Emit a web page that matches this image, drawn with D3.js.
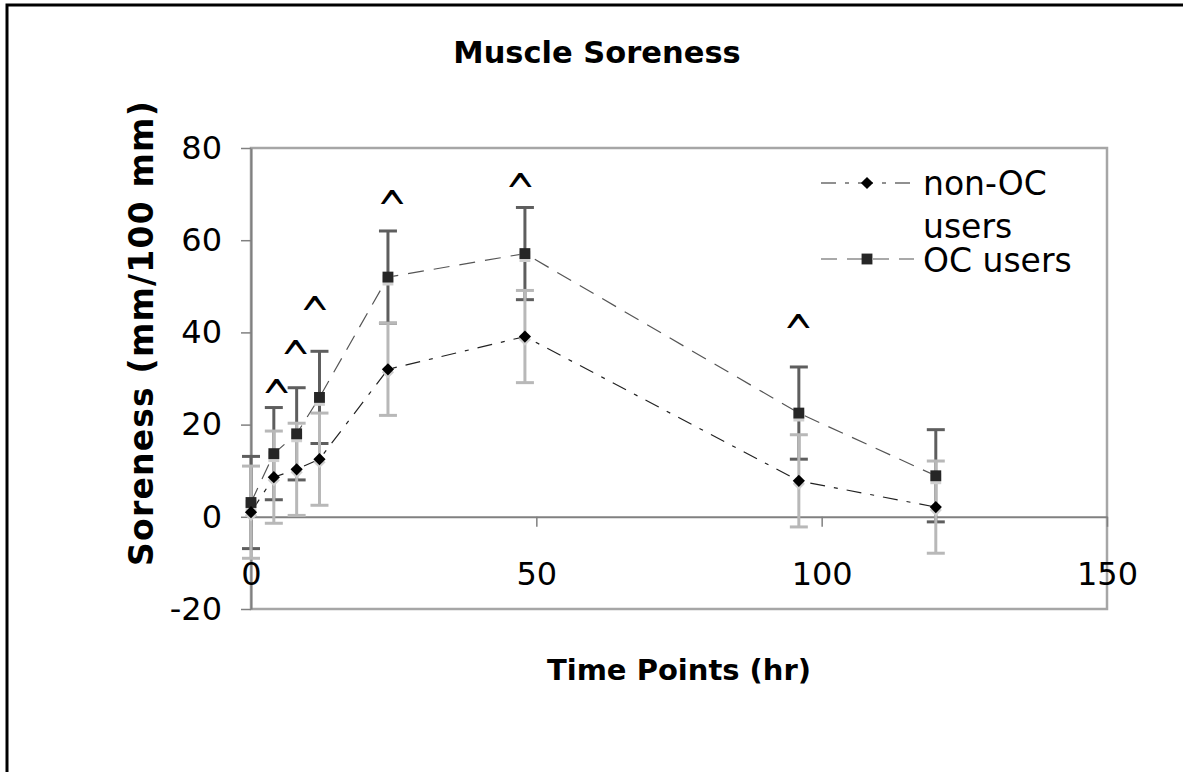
<!DOCTYPE html>
<html>
<head>
<meta charset="utf-8">
<script src="https://cdn.jsdelivr.net/npm/d3@7"></script>
<style>
  html, body { margin: 0; padding: 0; background: #fff; }
  svg { display: block; }
</style>
</head>
<body>
<svg id="chart" width="1183" height="772"></svg>
<script>
// ---- data ----
const timePoints = [0, 4, 8, 12, 24, 48, 96, 120];
const nonOC = [1.0, 8.6, 10.3, 12.5, 32.0, 39.1, 7.8, 2.1];
const nonOCErr = [10, 10, 10, 10, 10, 10, 10, 10];
const oc = [3.1, 13.7, 18.0, 25.9, 52.0, 57.1, 22.5, 8.9];
const ocErr = [10, 10, 10, 10, 10, 10, 10, 10];
const caretX = [4.5, 7.8, 11.2, 24.7, 47.2, 95.9];
const caretY = [28.4, 36.9, 46.4, 69.4, 73.1, 42.5];
const xTicks = [0, 50, 100, 150];
const yTicks = [-20, 0, 20, 40, 60, 80];
const seriesNames = ["non-OC users", "OC users"];

const svg = d3.select("#chart");
const FONT = "'DejaVu Sans', Verdana, sans-serif";

// outer frame
svg.append("rect").attr("x", 7).attr("y", 5).attr("width", 1300).attr("height", 900)
  .attr("fill", "none").attr("stroke", "#000").attr("stroke-width", 3);

const x = d3.scaleLinear().domain([0, 150]).range([251, 1107]);
const y = d3.scaleLinear().domain([-20, 80]).range([609, 148]);

// plot border
svg.append("rect").attr("x", x(0)).attr("y", y(80))
  .attr("width", x(150) - x(0)).attr("height", y(-20) - y(80))
  .attr("fill", "none").attr("stroke", "#a6a6a6").attr("stroke-width", 2.5);

const fmt = d => String(d);

// y axis
const yAxis = svg.append("g").attr("transform", `translate(${x(0)},0)`)
  .call(d3.axisLeft(y).tickValues(yTicks).tickSize(10).tickSizeOuter(0).tickPadding(19)
    .tickFormat(fmt));
yAxis.select(".domain").attr("stroke", "#808080").attr("stroke-width", 2);
yAxis.selectAll(".tick line").attr("stroke", "#808080").attr("stroke-width", 1.5);
yAxis.selectAll(".tick text").attr("font-family", FONT).attr("font-size", 32).attr("fill", "#000");

// x axis at y=0
const xAxis = svg.append("g").attr("transform", `translate(0,${y(0)})`)
  .call(d3.axisBottom(x).tickValues(xTicks).tickSize(10).tickSizeOuter(0).tickFormat(fmt));
xAxis.select(".domain").attr("stroke", "#808080").attr("stroke-width", 2);
xAxis.selectAll(".tick line").attr("stroke", "#808080").attr("stroke-width", 1.5);
xAxis.selectAll(".tick text").attr("font-family", FONT).attr("font-size", 32).attr("fill", "#000")
  .attr("y", 57).attr("dy", "0.35em");

// error bars
function errorBars(vals, errs, color, cls) {
  const g = svg.append("g").attr("class", cls);
  timePoints.forEach((t, i) => {
    const cx = x(t), top = y(vals[i] + errs[i]), bot = y(vals[i] - errs[i]);
    g.append("line").attr("x1", cx).attr("x2", cx).attr("y1", top).attr("y2", bot)
      .attr("stroke", color).attr("stroke-width", 3);
    [top, bot].forEach(yy => g.append("line").attr("x1", cx - 9).attr("x2", cx + 9)
      .attr("y1", yy).attr("y2", yy).attr("stroke", color).attr("stroke-width", 3));
  });
}
errorBars(oc, ocErr, "#5e5e5e", "err-oc");
errorBars(nonOC, nonOCErr, "#b8b8b8", "err-non");

// lines
const line = d3.line().x((d, i) => x(timePoints[i])).y(d => y(d));
svg.append("path").datum(nonOC).attr("d", line).attr("fill", "none")
  .attr("stroke", "#222").attr("stroke-width", 1.2).attr("stroke-dasharray", "15,9,4,9");
svg.append("path").datum(oc).attr("d", line).attr("fill", "none")
  .attr("stroke", "#555").attr("stroke-width", 1.2).attr("stroke-dasharray", "16,10");

// markers with soft shadow
const diamond = d3.symbol().type(d3.symbolDiamond2).size(95);
const square = d3.symbol().type(d3.symbolSquare2).size(150);
function markers(vals, sym, fill) {
  timePoints.forEach((t, i) => {
    svg.append("path").attr("d", sym()).attr("transform", `translate(${x(t)},${y(vals[i]) + 3})`)
      .attr("fill", "#cfcfcf");
  });
  timePoints.forEach((t, i) => {
    svg.append("path").attr("d", sym()).attr("transform", `translate(${x(t)},${y(vals[i])})`)
      .attr("fill", fill);
  });
}
markers(oc, square, "#262626");
markers(nonOC, diamond, "#000");

// significance carets
const CF = 36;
caretX.forEach((cx, i) => {
  svg.append("g").attr("transform", `translate(${x(cx)},${y(caretY[i])}) scale(1,1.45)`)
    .append("text").attr("x", 0).attr("y", 0.594 * CF).attr("text-anchor", "middle")
    .attr("font-family", FONT).attr("font-size", CF).attr("fill", "#000").text("^");
});

// legend
const leg = svg.append("g");
const legRows = [
  { y: 183, dash: "15,9,4,9", color: "#222", sym: diamond, fill: "#000" },
  { y: 259, dash: "16,10", color: "#555", sym: square, fill: "#262626" }
];
legRows.forEach(r => {
  leg.append("line").attr("x1", 821).attr("x2", 914).attr("y1", r.y).attr("y2", r.y)
    .attr("stroke", r.color).attr("stroke-width", 1.2).attr("stroke-dasharray", r.dash);
  leg.append("path").attr("d", r.sym()).attr("transform", `translate(867,${r.y})`).attr("fill", r.fill);
});
leg.append("text").attr("x", 923).attr("y", 195).attr("font-family", FONT).attr("font-size", 33)
  .text("non-OC");
leg.append("text").attr("x", 923).attr("y", 238).attr("font-family", FONT).attr("font-size", 33)
  .text("users");
leg.append("text").attr("x", 923).attr("y", 272).attr("font-family", FONT).attr("font-size", 33)
  .text(seriesNames[1]);

// titles
svg.append("text").attr("x", 597).attr("y", 63).attr("text-anchor", "middle")
  .attr("font-family", FONT).attr("font-weight", "bold").attr("font-size", 30.5).text("Muscle Soreness");
svg.append("text").attr("x", 679).attr("y", 680).attr("text-anchor", "middle")
  .attr("font-family", FONT).attr("font-weight", "bold").attr("font-size", 29).text("Time Points (hr)");
svg.append("text").attr("transform", "translate(153,333) rotate(-90)").attr("text-anchor", "middle")
  .attr("font-family", FONT).attr("font-weight", "bold").attr("font-size", 33)
  .attr("letter-spacing", 1.2).text("Soreness (mm/100 mm)");
</script>
</body>
</html>
